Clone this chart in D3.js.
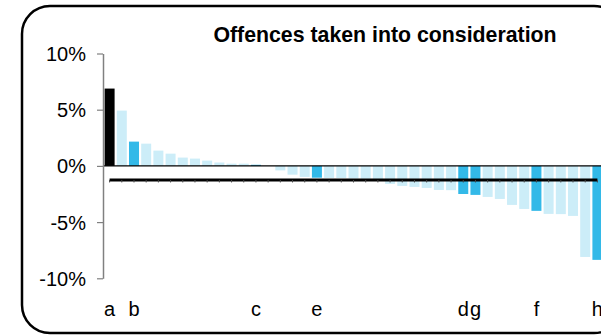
<!DOCTYPE html>
<html>
<head>
<meta charset="utf-8">
<script src="https://cdn.jsdelivr.net/npm/d3@7"></script>
<style>
  html, body { margin: 0; padding: 0; background: #fff; }
  svg { display: block; }
  text { font-family: "Liberation Sans", Arial, sans-serif; }
</style>
</head>
<body>
<svg id="chart" width="601" height="336"></svg>
<script>
// ---- data ----
const labels = ["a","","b","","","","","","","","","","c","","","","","e","","","","","","","","","","","","d","g","","","","","f","","","","","h"];
const values = [6.88,4.92,2.16,1.98,1.36,1.09,0.74,0.65,0.47,0.30,0.20,0.20,0.10,0.00,-0.40,-0.78,-0.98,-1.05,-1.07,-1.08,-1.12,-1.15,-1.18,-1.60,-1.78,-1.87,-1.96,-2.14,-2.16,-2.50,-2.58,-2.76,-2.94,-3.47,-3.83,-4.00,-4.27,-4.29,-4.45,-8.10,-8.36];
const groups = ["national","other","highlight","other","other","other","other","other","other","other","other","other","highlight","other","other","other","other","highlight","other","other","other","other","other","other","other","other","other","other","other","highlight","highlight","other","other","other","other","highlight","other","other","other","other","highlight"];
const average = -1.25;
const yTicks = [-10, -5, 0, 5, 10];
const title = "Offences taken into consideration";

// ---- chart ----
const svg = d3.select("#chart");
const colors = { national: "#000000", highlight: "#33B9E8", other: "#CCEDF8" };

// frame
svg.append("rect")
  .attr("x", 22).attr("y", 6).attr("width", 600).attr("height", 327)
  .attr("rx", 28).attr("ry", 28)
  .attr("fill", "none").attr("stroke", "#000").attr("stroke-width", 2.5);

const idx = values.map((d, i) => i);
const x = d3.scaleBand().domain(idx).range([103.5, 603.5]).paddingInner(0.18).paddingOuter(0.09);
const y = d3.scaleLinear().domain([-10, 10]).range([278.3, 53.5]);

// bars
svg.append("g").selectAll("rect").data(idx).join("rect")
  .attr("x", i => x(i))
  .attr("width", x.bandwidth())
  .attr("y", i => y(Math.max(0, values[i])))
  .attr("height", i => Math.abs(y(values[i]) - y(0)))
  .attr("fill", i => colors[groups[i]]);

// zero line
svg.append("line")
  .attr("x1", 103).attr("x2", 601)
  .attr("y1", y(0)).attr("y2", y(0))
  .attr("stroke", "#000").attr("stroke-width", 1.2);

// average line
const line = d3.line().x(i => x(i) + x.bandwidth() / 2).y(() => y(average));
svg.append("path").datum(idx)
  .attr("d", line)
  .attr("fill", "none").attr("stroke", "#000").attr("stroke-width", 3);
svg.append("g").selectAll("line").data(idx).join("line")
  .attr("x1", i => x(i) + x.bandwidth() / 2).attr("x2", i => x(i) + x.bandwidth() / 2)
  .attr("y1", y(average)).attr("y2", y(average) + 2.5)
  .attr("stroke", "#444").attr("stroke-width", 1);

// y axis
const yAxis = svg.append("g")
  .attr("transform", "translate(103,0)")
  .call(d3.axisLeft(y).tickValues(yTicks).tickFormat(d => d + "%").tickSize(6).tickSizeOuter(0));
yAxis.select(".domain").attr("stroke", "#808080").attr("stroke-width", 1.5);
yAxis.selectAll(".tick line").attr("stroke", "#808080").attr("stroke-width", 1.2);
yAxis.selectAll(".tick text")
  .attr("x", -17).attr("dy", "0.35em")
  .attr("fill", "#000").style("font-size", "20px")
  .style("font-family", "'Liberation Sans', Arial, sans-serif");

// category labels
const xAxis = svg.append("g")
  .attr("transform", "translate(0,300)")
  .call(d3.axisBottom(x).tickFormat(i => labels[i]).tickSize(0));
xAxis.select(".domain").remove();
xAxis.selectAll(".tick text")
  .attr("y", 0).attr("dy", "16px")
  .attr("fill", "#000").style("font-size", "20px")
  .style("font-family", "'Liberation Sans', Arial, sans-serif");

// title
svg.append("text")
  .attr("x", 385).attr("y", 42)
  .attr("text-anchor", "middle")
  .style("font-size", "21.3px").style("font-weight", "bold")
  .text(title);
</script>
</body>
</html>
